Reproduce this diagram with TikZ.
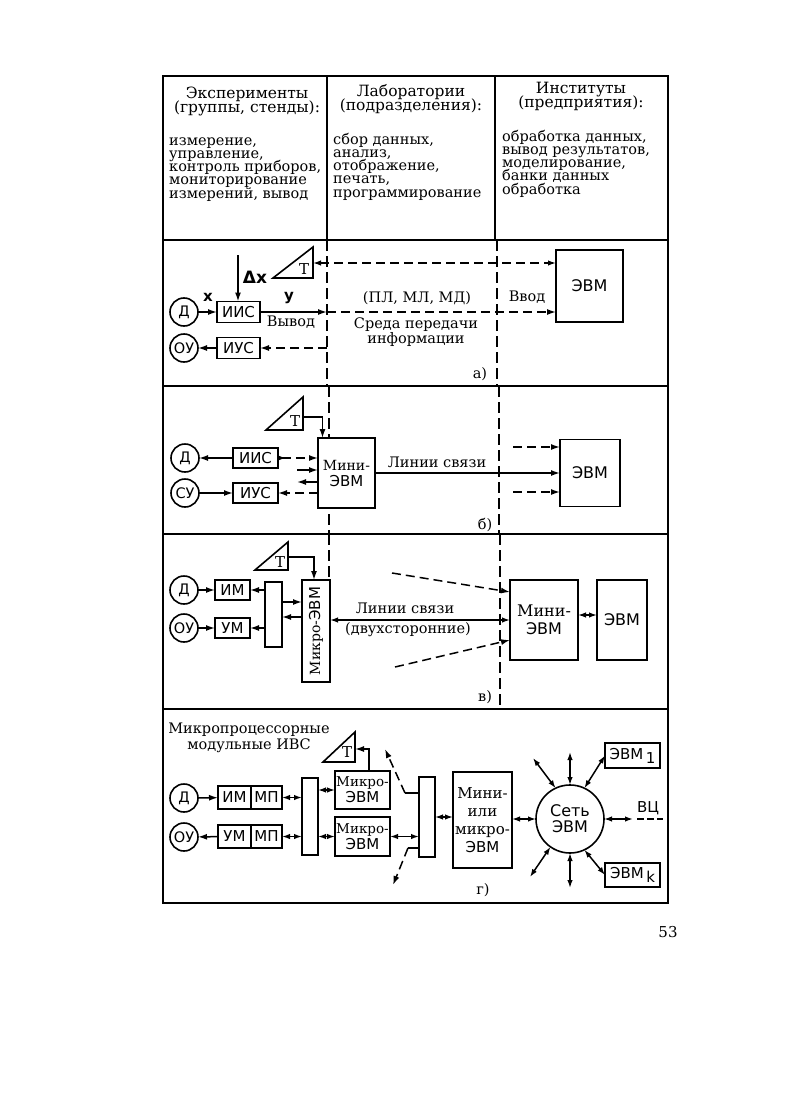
\documentclass[tikz,border=0pt]{standalone}
\usepackage{fontspec}
\setmainfont{DejaVu Serif}
\setsansfont{DejaVu Sans}
\usepackage{graphicx}
\usetikzlibrary{positioning,arrows.meta}
\newcommand{\hstrut}{\rule{0pt}{12pt}}
\newcommand{\tightlines}{\lineskiplimit=-10pt}

\begin{document}
\begin{tikzpicture}[x=1pt, y=-1pt,
    blk/.style={rectangle, draw, fill=white, line width=1.6pt, inner sep=0pt,
      outer sep=0pt, align=center, font=\sffamily\fontsize{15}{16}\selectfont},
    src/.style={circle, draw, fill=white, line width=1.6pt, minimum size=28pt,
      inner sep=0pt, outer sep=0pt, font=\sffamily\fontsize{14.5}{15}\selectfont},
    bus/.style={rectangle, draw, fill=white, line width=1.6pt, inner sep=0pt, outer sep=0pt},
    arr/.style={-{Latex[length=9pt, width=6pt]}, line width=1.5pt},
    barr/.style={{Latex[length=8pt, width=5.5pt]}-{Latex[length=8pt, width=5.5pt]}, line width=1.5pt},
    dsh/.style={dash pattern=on 9pt off 5pt},
    divider/.style={line width=1.4pt, dash pattern=on 11pt off 5pt},
    hline/.style={line width=1.8pt},
    tri/.style={line width=1.6pt, line join=miter},
    lbl/.style={inner sep=0pt, font=\rmfamily\fontsize{14.5}{15}\selectfont},
    var/.style={inner sep=0pt, font=\sffamily\bfseries\fontsize{15}{16}\selectfont},
    colhead/.style={anchor=north, align=center, inner sep=0pt,
      font=\rmfamily\fontsize{15.5}{14}\selectfont\tightlines},
    tasklist/.style={anchor=north west, align=left, inner sep=0pt,
      font=\rmfamily\fontsize{14.5}{13.2}\selectfont\tightlines},
  ]
  \useasboundingbox (0,0) rectangle (794,1108);

  % table rules and panel dividers
  \draw[line width=2.2pt] (163,76) rectangle (668,903);
  \foreach \y in {240,386,534,709} \draw[hline] (163,\y) -- (668,\y);
  \draw[hline] (327,76) -- (327,240);
  \draw[hline] (495,76) -- (495,240);
  \draw[divider] (327,240) -- (327,386);
  \draw[divider] (497,240) -- (497,386);
  \draw[divider] (329,386) -- (329,534);
  \draw[divider] (499,386) -- (499,534);
  \draw[divider] (329,534) -- (329,580);
  \draw[divider] (500,534) -- (500,709);

  % header
  \node[colhead] (hexp) at (247,86) {\hstrut Эксперименты\\(группы, стенды):};
  \node[colhead] (hlab) at (411,84) {\hstrut Лаборатории\\(подразделения):};
  \node[colhead] (hinst) at (581,81) {\hstrut Институты\\(предприятия):};
  \node[tasklist] (texp) at (169,133) {\hstrut измерение,\\управление,\\контроль приборов,\\мониторирование\\измерений, вывод};
  \node[tasklist] (tlab) at (333,132) {\hstrut сбор данных,\\анализ,\\отображение,\\печать,\\программирование};
  \node[tasklist] (tinst) at (502,129) {\hstrut обработка данных,\\вывод результатов,\\моделирование,\\банки данных\\обработка};

  % a)
  \node[src] (D1) at (184,312) {Д};
  \node[src] (OU1) at (184,348) {ОУ};
  \node[blk, minimum width=43pt, minimum height=21pt] (iis1) at (238.5,312) {ИИС};
  \node[blk, minimum width=43pt, minimum height=21pt] (ius1) at (238.5,348) {ИУС};
  \node[blk, minimum width=67pt, minimum height=72pt, font=\sffamily\fontsize{16}{17}\selectfont] (ebm1) at (589.5,286) {ЭВМ};
  \draw[tri] (273,278) -- (313,247) -- (313,278) -- cycle;
  \node[lbl, font=\rmfamily\fontsize{15}{16}\selectfont] (T1) at (304,269) {Т};
  \coordinate (dx1) at (238,255);
  \draw[arr] (dx1) -- (dx1 |- iis1.north);
  \node[var, font=\sffamily\bfseries\fontsize{17}{18}\selectfont] (dxl) at (255,277) {Δx};
  \node[var] (xl) at (208,297) {x};
  \draw[arr] (D1) -- (iis1);
  \coordinate (a1) at (327,312);
  \draw[arr] (iis1) -- (a1);
  \node[var] (yl) at (289,298) {y};
  \node[lbl] (outl) at (291,322) {Вывод};
  \draw[arr, dsh] (a1) -- (ebm1.west |- a1);
  \coordinate (a2) at (327,348);
  \draw[arr, dsh] (a2) -- (ius1);
  \draw[arr] (ius1) -- (OU1);
  \coordinate (a3) at (313,263);
  \draw[barr, dsh] (a3) -- (ebm1.west |- a3);
  \node[lbl] (medl) at (417,298) {(ПЛ, МЛ, МД)};
  \node[lbl, align=center] (medt) at (416,332) {Среда передачи\\информации};
  \node[lbl] (inl) at (527,297) {Ввод};
  \node[lbl] (capa) at (480,374) {а)};

  % b)
  \node[src] (D2) at (185,458) {Д};
  \node[src] (SU2) at (185,493) {СУ};
  \node[blk, minimum width=45pt, minimum height=20pt] (iis2) at (255.5,458) {ИИС};
  \node[blk, minimum width=45pt, minimum height=20pt] (ius2) at (255.5,493) {ИУС};
  \node[blk, minimum width=57pt, minimum height=70pt] (mini2) at (346.5,473) {{\rmfamily\fontsize{14}{16}\selectfont Мини-}\\ЭВМ};
  \node[blk, minimum width=60pt, minimum height=67pt, font=\sffamily\fontsize{16}{17}\selectfont] (ebm2) at (590,473) {ЭВМ};
  \draw[tri] (266,430) -- (303,397) -- (303,430) -- cycle;
  \node[lbl, font=\rmfamily\fontsize{15}{16}\selectfont] (T2) at (295,421) {Т};
  \coordinate (b0) at (303,417);
  \draw[arr] (b0) -| ([xshift=-24pt]mini2.north);
  \draw[arr] (iis2) -- (D2);
  \draw[arr] (SU2) -- (ius2);
  \draw[{Latex[reversed, length=8pt, width=5.5pt]}-{Latex[length=9pt, width=6pt]}, line width=1.5pt, dsh] (iis2) -- (mini2.west |- iis2);
  \coordinate (b1) at (297,470);
  \coordinate (b2) at (297,482);
  \draw[arr] (b1) -- (mini2.west |- b1);
  \draw[arr] (mini2.west |- b2) -- (b2);
  \draw[arr, dsh] (mini2.west |- ius2) -- (ius2);
  \draw[arr] (mini2) -- (ebm2);
  \node[lbl] (linkb) at (437,462) {Линии связи};
  \coordinate (b3) at (513,447);
  \coordinate (b4) at (513,492);
  \draw[arr, dsh] (b3) -- (ebm2.west |- b3);
  \draw[arr, dsh] (b4) -- (ebm2.west |- b4);
  \node[lbl] (capb) at (485,525) {б)};

  % c)
  \node[src] (D3) at (184,590) {Д};
  \node[src] (OU3) at (184,628) {ОУ};
  \node[blk, minimum width=35pt, minimum height=20pt] (im3) at (232.5,590) {ИМ};
  \node[blk, minimum width=35pt, minimum height=20pt] (um3) at (232.5,628) {УМ};
  \node[bus, minimum width=17pt, minimum height=65pt] (bus3) at (273.5,614.5) {};
  \node[blk, minimum width=28pt, minimum height=102pt] (micro3) at (316,631) {\rotatebox{90}{\rmfamily\fontsize{14}{15}\selectfont Микро-\sffamily\fontsize{15}{16}\selectfont ЭВМ}};
  \node[blk, minimum width=68pt, minimum height=80pt, font=\sffamily\fontsize{16}{18}\selectfont] (mini3) at (544,620) {{\rmfamily Мини-}\\ЭВМ};
  \node[blk, minimum width=50pt, minimum height=80pt, font=\sffamily\fontsize{16}{17}\selectfont] (ebm3) at (622,620) {ЭВМ};
  \draw[tri] (255,570) -- (288,542) -- (288,570) -- cycle;
  \node[lbl, font=\rmfamily\fontsize{15}{16}\selectfont] (T3) at (280,562) {Т};
  \coordinate (c0) at (288,557);
  \draw[arr] (c0) -| ([xshift=-2pt]micro3.north);
  \draw[arr] (D3) -- (im3);
  \draw[arr] (OU3) -- (um3);
  \draw[arr] (bus3.west |- im3) -- (im3);
  \draw[arr] (bus3.west |- um3) -- (um3);
  \coordinate (c1) at (0,602);
  \coordinate (c2) at (0,617);
  \draw[arr] (bus3.east |- c1) -- (micro3.west |- c1);
  \draw[arr] (micro3.west |- c2) -- (bus3.east |- c2);
  \draw[barr] (micro3.east |- mini3) -- (mini3);
  \coordinate (c3) at (0,615);
  \draw[barr] (mini3.east |- c3) -- (ebm3.west |- c3);
  \coordinate (c4) at (392,573);
  \coordinate (c5) at (0,592);
  \draw[arr, dsh] (c4) -- (mini3.west |- c5);
  \coordinate (c6) at (395,667);
  \coordinate (c7) at (0,640);
  \draw[arr, dsh] (c6) -- (mini3.west |- c7);
  \node[lbl] (linkc) at (405,608) {Линии связи};
  \node[lbl] (duplex) at (408,630) {(двухсторонние)};
  \node[lbl] (capc) at (485,697) {в)};

  % d)
  \node[lbl, align=center, font=\rmfamily\fontsize{14.5}{16}\selectfont] (ttl) at (249,738) {Микропроцессорные\\модульные ИВС};
  \node[src] (D4) at (184,798) {Д};
  \node[src] (OU4) at (184,837) {ОУ};
  \node[blk, minimum width=33pt, minimum height=23pt] (im4) at (234.5,797.5) {ИМ};
  \node[blk, minimum width=31pt, minimum height=23pt, right=0pt of im4] (mp4a) {МП};
  \node[blk, minimum width=33pt, minimum height=23pt] (um4) at (234.5,836.5) {УМ};
  \node[blk, minimum width=31pt, minimum height=23pt, right=0pt of um4] (mp4b) {МП};
  \node[bus, minimum width=16pt, minimum height=77pt] (bus4a) at (310,816.5) {};
  \node[blk, minimum width=55pt, minimum height=38pt] (microA) at (362.5,790) {{\rmfamily\fontsize{13.5}{16}\selectfont Микро-}\\ЭВМ};
  \node[blk, minimum width=55pt, minimum height=39pt] (microB) at (362.5,836.5) {{\rmfamily\fontsize{13.5}{16}\selectfont Микро-}\\ЭВМ};
  \node[bus, minimum width=16pt, minimum height=80pt] (bus4b) at (427,817) {};
  \node[blk, minimum width=59pt, minimum height=96pt, font=\sffamily\fontsize{15}{18}\selectfont] (mini4) at (482.5,820) {{\rmfamily Мини-}\\{\rmfamily или}\\{\rmfamily микро-}\\ЭВМ};
  \node[src, minimum size=68pt, align=center, font=\sffamily\fontsize{16}{16}\selectfont] (net) at (570,819) {Сеть\\ЭВМ};
  \node[blk, minimum width=55pt, minimum height=25pt, font=\sffamily\fontsize{15}{16}\selectfont] (ebm4a) at (632.5,755.5) {ЭВМ\,\raisebox{-4pt}{1}};
  \node[blk, minimum width=55pt, minimum height=24pt, font=\sffamily\fontsize{15}{16}\selectfont] (ebm4k) at (632.5,875) {ЭВМ\,\raisebox{-4pt}{k}};
  \draw[tri] (323,762) -- (355,732) -- (355,762) -- cycle;
  \node[lbl, font=\rmfamily\fontsize{15}{16}\selectfont] (T4) at (347,752) {Т};
  \coordinate (d0) at (355,749);
  \draw[arr] ([xshift=6.5pt]microA.north) |- (d0);
  \draw[arr] (D4) -- (im4);
  \draw[arr] (um4) -- (OU4);
  \draw[barr] (mp4a) -- (bus4a.west |- mp4a);
  \draw[barr] (mp4b) -- (bus4a.west |- mp4b);
  \draw[barr] (bus4a.east |- microA) -- (microA);
  \draw[barr] (bus4a.east |- microB) -- (microB);
  \draw[barr] (microB) -- (bus4b.west |- microB);
  \draw[barr] (bus4b) -- (mini4.west |- bus4b);
  \coordinate (d1) at (405,793);
  \coordinate (d2) at (385,749);
  \draw[line width=1.5pt] (bus4b.west |- d1) -- (d1);
  \draw[arr, dsh] (d1) -- (d2);
  \coordinate (d3) at (408,848);
  \coordinate (d4) at (393,885);
  \draw[line width=1.5pt] (bus4b.west |- d3) -- (d3);
  \draw[arr, dsh] (d3) -- (d4);
  \draw[barr] (mini4.east |- net) -- (net);
  \coordinate (n1) at (570,752);
  \coordinate (n2) at (533,758);
  \coordinate (n3) at (633,819);
  \coordinate (n4) at (663,819);
  \coordinate (n5) at (530,877);
  \coordinate (n6) at (570,888);
  \draw[barr] (net.north) -- (n1);
  \draw[barr] (net.115) -- (n2);
  \draw[barr] (net.65) -- (ebm4a.west);
  \draw[barr] (net.east) -- (n3);
  \draw[line width=1.5pt, dash pattern=on 7pt off 3pt] (n3) ++(4,0) -- (n4);
  \draw[barr] (net.235) -- (n5);
  \draw[barr] (net.south) -- (n6);
  \draw[barr] (net.295) -- (ebm4k.west);
  \node[inner sep=0pt, font=\sffamily\fontsize{15}{16}\selectfont] (vc) at (648,808) {ВЦ};
  \node[lbl] (capd) at (483,890) {г)};

  \node[inner sep=0pt, font=\rmfamily\fontsize{15}{16}\selectfont] (pnum) at (668,932) {53};
\end{tikzpicture}
\end{document}
